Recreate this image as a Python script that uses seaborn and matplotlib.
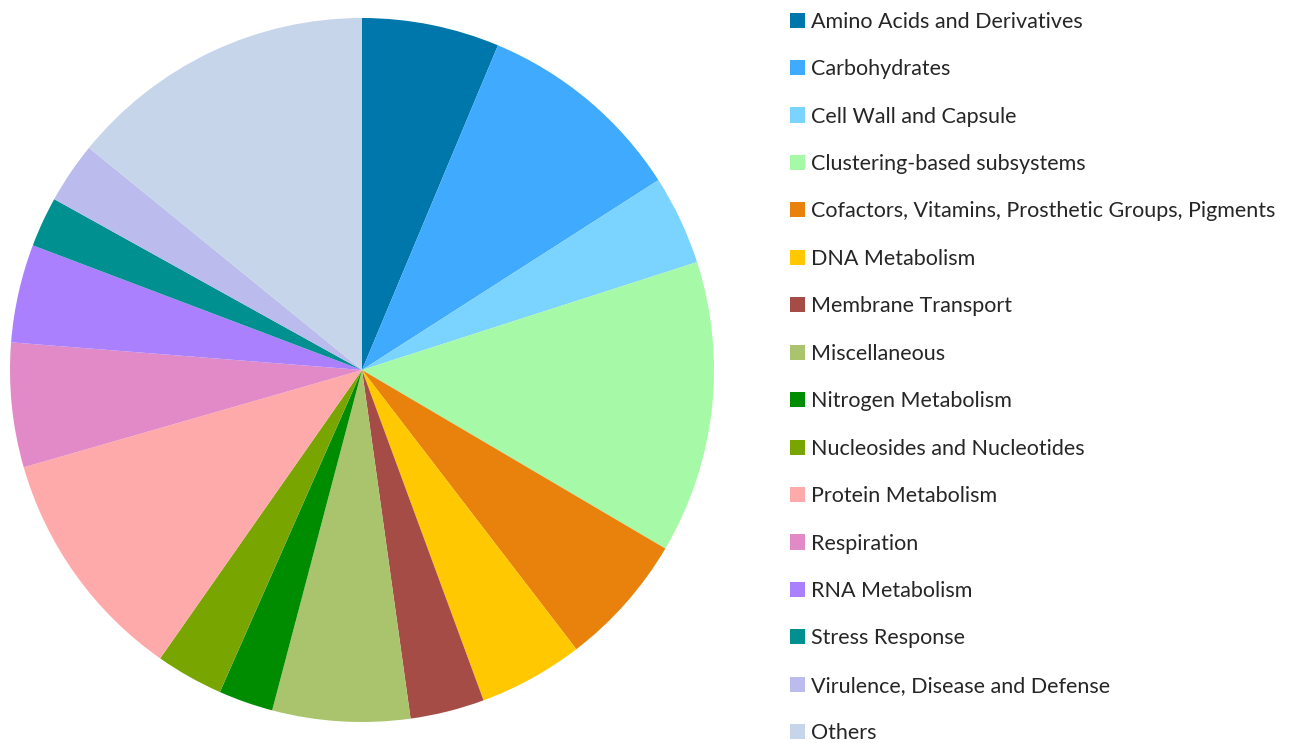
import matplotlib
matplotlib.use("Agg")
import matplotlib.pyplot as plt
import seaborn as sns

categories = [
    "Amino Acids and Derivatives",
    "Carbohydrates",
    "Cell Wall and Capsule",
    "Clustering-based subsystems",
    "Cofactors, Vitamins, Prosthetic Groups, Pigments",
    "DNA Metabolism",
    "Membrane Transport",
    "Miscellaneous",
    "Nitrogen Metabolism",
    "Nucleosides and Nucleotides",
    "Protein Metabolism",
    "Respiration",
    "RNA Metabolism",
    "Stress Response",
    "Virulence, Disease and Defense",
    "Others",
]
# share of each subsystem (%)
shares = [6.3, 9.6, 4.1, 13.4, 6.1, 4.8, 3.4, 6.3, 2.5, 3.1, 10.8, 5.7, 4.5, 2.3, 2.8, 14.1]
colors = [
    "#0077AA", "#40AAFF", "#7AD4FF", "#A6F9A6", "#E8820C", "#FFC800",
    "#A64C46", "#AAC46E", "#008C00", "#79A500", "#FFAAAA", "#E28AC8",
    "#AA80FF", "#009090", "#BBBBEE", "#C6D5EA",
]

sns.set_theme(style="white")
plt.rcParams["font.family"] = ["Lato", "DejaVu Sans"]
palette = sns.color_palette(colors)

W, H = 1298, 743
fig = plt.figure(figsize=(W / 100, H / 100), dpi=100)
ax = fig.add_axes([(362 - 352) / W, (H - 370 - 352) / H, 704 / W, 704 / H])
wedges, _ = ax.pie(shares, colors=palette, startangle=90, counterclock=False,
                   radius=1.0, wedgeprops=dict(linewidth=0))
ax.set_xlim(-1, 1)
ax.set_ylim(-1, 1)
ax.axis("off")

fig.legend(wedges, categories, loc="upper left",
           bbox_to_anchor=(781 / W, 1 - 3 / H), frameon=False,
           fontsize=15.5, labelspacing=1.275, handlelength=0.7,
           handleheight=0.7, handletextpad=0.3, borderaxespad=0,
           labelcolor="#262626")

fig.savefig("out.png", dpi=100)
